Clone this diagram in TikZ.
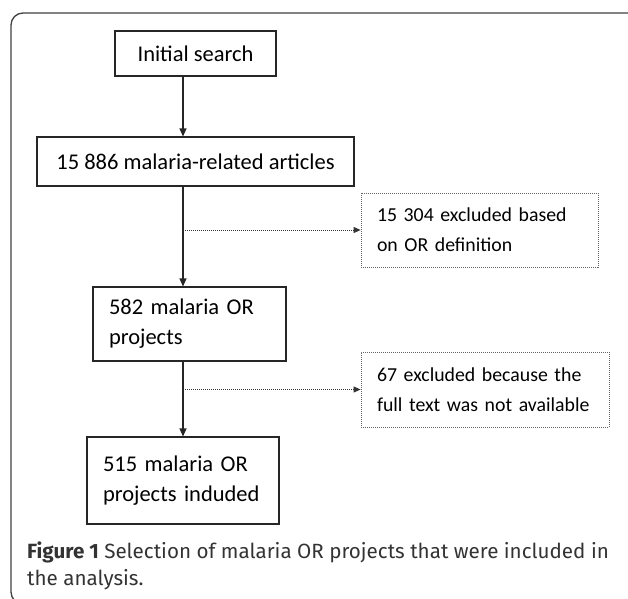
\documentclass[tikz,border=0pt]{standalone}
\usepackage{fontspec}
\setmainfont{Carlito}
\newfontfamily\capfont{Fira Sans}
\usetikzlibrary{arrows.meta}
\usetikzlibrary{calc}
\def\Sx{183}
\def\BoxFont{\fontsize{22.5}{30}\selectfont}
\def\ExclFont{\fontsize{19.8}{30}\selectfont}
\definecolor{capgray}{HTML}{333333}

\tikzset{
  stagebox/.style={draw=black!85, line width=1.1pt, font=\BoxFont, inner xsep=16pt, inner ysep=0pt, align=left},
  exclbox/.style={draw=black!60, line width=0.8pt, dash pattern=on 1pt off 1pt, font=\ExclFont, inner xsep=16pt, inner ysep=0pt, align=left},
  flow/.style={draw=black!85, line width=1.2pt, -{Triangle[length=8pt,width=7pt]}},
  skip/.style={draw=black!80, line width=1pt, dash pattern=on 1pt off 1pt, -{Triangle[length=7pt,width=6pt]}},
}

\begin{document}
\begin{tikzpicture}[x=1pt,y=-1pt]
\useasboundingbox (0,0) rectangle (628,598);
\clip (0,0) rectangle (628,598);

\draw[rounded corners=12pt, line width=1.3pt, draw=black!75] (11,13) rectangle (645,604);

\coordinate (spine) at (\Sx,0);

\node[stagebox, minimum width=161pt, minimum height=45pt, align=center] (init) at (195.5,53.5) {Initial search};
\node[stagebox, minimum width=317pt, minimum height=49pt, align=center] (arts) at (195.5,161.5) {15 886 malaria-related articles};
\node[stagebox, text width=161pt, minimum height=74pt] (proj) at (189.5,324) {582 malaria OR\\projects};
\node[stagebox, text width=160pt, minimum height=87pt] (incl) at (183,480.5) {515 malaria OR\\projects induded};

\node[exclbox, text width=205pt, minimum height=74pt] (excl1) at (479.5,230) {15 304 excluded based\\on OR definition};
\node[exclbox, text width=216pt, minimum height=75pt] (excl2) at (485,389.5) {67 excluded because the\\full text was not available};

\draw[flow] (init.south -| spine) -- (arts.north -| spine);
\draw[flow] (arts.south -| spine) -- (proj.north -| spine);
\draw[flow] (proj.south -| spine) -- (incl.north -| spine);

\draw[skip] (spine |- excl1.west) -- (excl1.west);
\draw[skip] (spine |- excl2.west) -- (excl2.west);

\node[anchor=north west, inner sep=0pt, align=left, text=capgray, font=\capfont\fontsize{20.6}{27}\selectfont] (cap) at (27,542) {\textbf{Figure 1} Selection of malaria OR projects that were included in\\the analysis.};
\end{tikzpicture}
\end{document}
